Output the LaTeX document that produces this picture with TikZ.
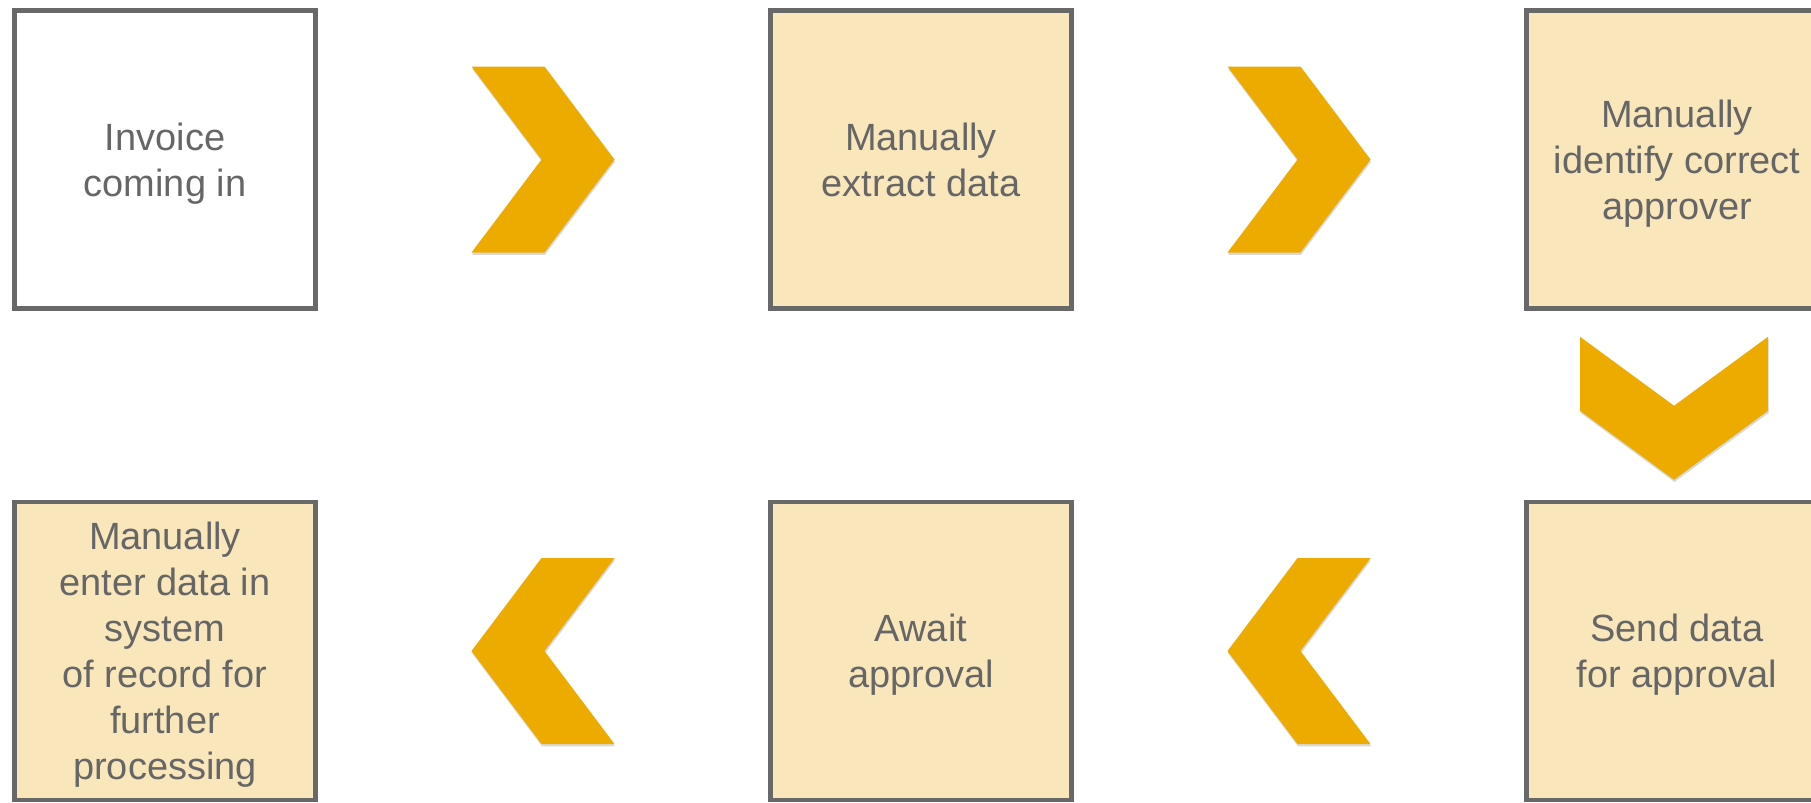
\documentclass[tikz,border=0pt]{standalone}
\usepackage{fontspec}
\setmainfont{Liberation Sans}
\usepackage{xcolor}
\usetikzlibrary{calc}
\usetikzlibrary{shadows}

\definecolor{boxline}{HTML}{686868}
\definecolor{boxtext}{HTML}{666666}
\definecolor{boxfill}{HTML}{F9E6BA}
\definecolor{arrowgold}{HTML}{EDAB00}

\tikzset{
  stepbox/.style={draw=boxline, line width=0.09cm, minimum width=6.03cm, minimum height=5.97cm,
    text=boxtext, align=center, inner sep=0pt, text depth=0pt, font=\fontsize{21.6}{26.2}\selectfont},
  manual/.style={stepbox, fill=boxfill},
  chevfill/.style={fill=arrowgold, drop shadow={shadow xshift=0.3pt, shadow yshift=-1.3pt, opacity=0.3}},
  pics/chevright/.style={code={
    \fill[chevfill] (-71.5,-93) -- (1.5,-93) -- (71.5,0) -- (1.5,93) -- (-71.5,93) -- (-1.5,0) -- cycle;}},
  pics/chevleft/.style={code={
    \fill[chevfill] (71.5,-93) -- (-1.5,-93) -- (-71.5,0) -- (-1.5,93) -- (71.5,93) -- (1.5,0) -- cycle;}},
  pics/chevdown/.style={code={
    \fill[chevfill] (-94,-71.5) -- (0,-2.5) -- (94,-71.5) -- (94,2.5) -- (0,71.5) -- (-94,2.5) -- cycle;}}
}

\begin{document}
\begin{tikzpicture}[x=0.02cm, y=-0.02cm]
	\useasboundingbox (0,0) rectangle (1811,802);
	\clip (0,0) rectangle (1811,802);
	% top row
	\node[stepbox] (A) at (165,159.5) {Invoice\\coming in};
	\node[manual] (B) at (921,159.5) {Manually\\extract data};
	\node[manual] (C) at (1677,159.5) {Manually\\identify correct\\approver};
	% bottom row
	\node[manual] (D) at (1677,651) {Send data\\for approval};
	\node[manual] (E) at (921,651) {Await\\approval};
	\node[manual] (F) at (165,651) {Manually\\enter data in\\system\\of record for\\further\\processing};
	% chevrons between the steps
	\pic at ($(A.east)!0.5!(B.west)$) {chevright};
	\pic at ($(B.east)!0.5!(C.west)$) {chevright};
	\pic at ($(C.south)!0.5!(D.north)+(-3,3)$) {chevdown};
	\pic at ($(D.west)!0.5!(E.east)$) {chevleft};
	\pic at ($(E.west)!0.5!(F.east)$) {chevleft};
\end{tikzpicture}
\end{document}
